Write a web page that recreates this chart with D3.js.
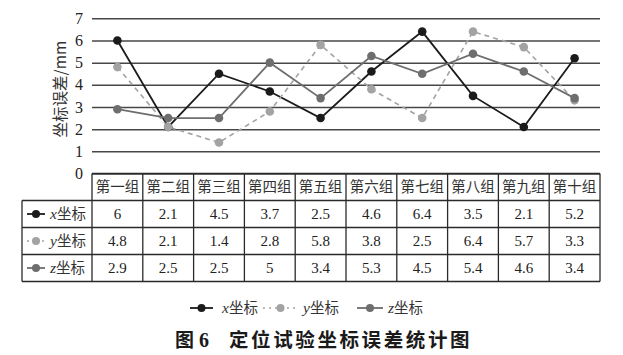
<!DOCTYPE html>
<html><head><meta charset="utf-8">
<script src="https://cdn.jsdelivr.net/npm/d3@7"></script>
<style>
body{margin:0;background:#fff;}
svg{display:block;}
</style></head>
<body>
<svg id="c" width="623" height="355"></svg>
<script>
const categories = ["第一组","第二组","第三组","第四组","第五组","第六组","第七组","第八组","第九组","第十组"];
const seriesNames = ["x","y","z"];
const xValues = [6,2.1,4.5,3.7,2.5,4.6,6.4,3.5,2.1,5.2];
const yValues = [4.8,2.1,1.4,2.8,5.8,3.8,2.5,6.4,5.7,3.3];
const zValues = [2.9,2.5,2.5,5,3.4,5.3,4.5,5.4,4.6,3.4];
const yTicks = [0,1,2,3,4,5,6,7];
const yLabel = "坐标误差/mm";
const titleFig = ["图","6"];
const titleText = "定位试验坐标误差统计图";

const series = [
  {name:seriesNames[0], values:xValues, color:"#1b1b1b", dash:null, width:1.8},
  {name:seriesNames[1], values:yValues, color:"#a3a3a3", dash:"5,4", width:1.6},
  {name:seriesNames[2], values:zValues, color:"#6e6e6e", dash:null, width:1.8}
];

const svg = d3.select("#c");
const pL = 92, pR = 600, pT = 18.3, pB = 173.5;
const x = d3.scaleBand().domain(categories).range([pL,pR]).padding(0);
const y = d3.scaleLinear().domain([0,7]).range([pB,pT]);
const serif = "'Liberation Serif','DejaVu Serif',serif";
const cjk = "'Noto Sans CJK SC','Noto Sans',sans-serif";

const yAxis = d3.axisLeft(y).tickValues(yTicks).tickSize(-(pR-pL)).tickPadding(9).tickFormat(d3.format("d"));
const ga = svg.append("g").attr("transform",`translate(${pL},0)`).call(yAxis);
ga.select(".domain").remove();
ga.selectAll(".tick line").attr("stroke","#474747").attr("stroke-width",1.5);
ga.selectAll(".tick text").attr("font-family",serif).attr("font-size",16).attr("fill","#222");

svg.append("text").attr("transform",`translate(66,89) rotate(-90)`)
  .attr("text-anchor","middle").attr("font-family",cjk).attr("font-size",15.5).attr("fill","#333")
  .text(yLabel);

const line = d3.line().x((d,i)=>x(categories[i])+x.bandwidth()/2).y(d=>y(d));
series.forEach(s=>{
  svg.append("path").datum(s.values).attr("d",line).attr("fill","none")
    .attr("stroke",s.color).attr("stroke-width",s.width).attr("stroke-dasharray",s.dash);
});
series.forEach(s=>{
  svg.append("g").selectAll("circle").data(s.values).join("circle")
    .attr("cx",(d,i)=>x(categories[i])+x.bandwidth()/2).attr("cy",d=>y(d)).attr("r",4.3)
    .attr("fill",s.color);
});

const rowH = 27, tTop = pB, labL = 22;
const rows = series.length + 1;
const tg = svg.append("g");
const bc = "#2a2a2a";
for(let r=0;r<=rows;r++){
  const yy = tTop + r*rowH;
  tg.append("line").attr("x1", r===0?pL:labL).attr("x2",pR).attr("y1",yy).attr("y2",yy)
    .attr("stroke",bc).attr("stroke-width",1.3);
}
categories.forEach((c,i)=>{
  tg.append("line").attr("x1",x(c)).attr("x2",x(c)).attr("y1",tTop).attr("y2",tTop+rows*rowH)
    .attr("stroke",bc).attr("stroke-width",1.3);
});
tg.append("line").attr("x1",pR).attr("x2",pR).attr("y1",tTop).attr("y2",tTop+rows*rowH).attr("stroke",bc).attr("stroke-width",1.3);
tg.append("line").attr("x1",labL).attr("x2",labL).attr("y1",tTop+rowH).attr("y2",tTop+rows*rowH).attr("stroke",bc).attr("stroke-width",1.3);
tg.selectAll("text.h").data(categories).join("text").attr("class","h")
  .attr("x",d=>x(d)+x.bandwidth()/2).attr("y",tTop+rowH/2+5).attr("text-anchor","middle")
  .attr("font-family",cjk).attr("font-size",14.5).attr("fill","#333").text(d=>d);
series.forEach((s,r)=>{
  const cy = tTop + (r+1)*rowH + rowH/2;
  tg.selectAll("text.v"+r).data(s.values).join("text").attr("class","v"+r)
    .attr("x",(d,i)=>x(categories[i])+x.bandwidth()/2).attr("y",cy+5).attr("text-anchor","middle")
    .attr("font-family",serif).attr("font-size",15).attr("fill","#222").text(d=>d);
  tg.append("line").attr("x1",27).attr("x2",45).attr("y1",cy).attr("y2",cy)
    .attr("stroke",s.color).attr("stroke-width",s.width).attr("stroke-dasharray",s.dash?"2,3":null);
  tg.append("circle").attr("cx",36).attr("cy",cy).attr("r",4).attr("fill",s.color);
  const t = tg.append("text").attr("x",50).attr("y",cy+5).attr("font-size",14.5).attr("fill","#333");
  t.append("tspan").attr("font-family",serif).attr("font-style","italic").attr("font-size",15.5).text(s.name);
  t.append("tspan").attr("font-family",cjk).text("坐标");
});

const legPos = [[190,213,222],[263,298,303],[357,383,388]];
series.forEach((s,i)=>{
  const [a,b,tx] = legPos[i], ly = 308;
  svg.append("line").attr("x1",a).attr("x2",b).attr("y1",ly).attr("y2",ly)
    .attr("stroke",s.color).attr("stroke-width",s.width).attr("stroke-dasharray",s.dash?"2,4":null);
  svg.append("circle").attr("cx",(a+b)/2).attr("cy",ly).attr("r",4).attr("fill",s.color);
  const t = svg.append("text").attr("x",tx).attr("y",ly+5).attr("font-size",14.5).attr("fill","#333");
  t.append("tspan").attr("font-family",serif).attr("font-style","italic").attr("font-size",15.5).text(s.name);
  t.append("tspan").attr("font-family",cjk).text("坐标");
});

svg.append("text").attr("x",175).attr("y",347).attr("font-family",cjk).attr("font-weight","bold")
  .attr("font-size",19).attr("fill","#1a1a1a").text(titleFig[0]);
svg.append("text").attr("x",199).attr("y",347).attr("font-family",serif).attr("font-weight","bold")
  .attr("font-size",20).attr("fill","#1a1a1a").text(titleFig[1]);
svg.append("text").attr("x",229).attr("y",347).attr("font-family",cjk).attr("font-weight","bold")
  .attr("font-size",19.5).attr("letter-spacing",2.6).attr("fill","#1a1a1a").text(titleText);
</script>
</body></html>
